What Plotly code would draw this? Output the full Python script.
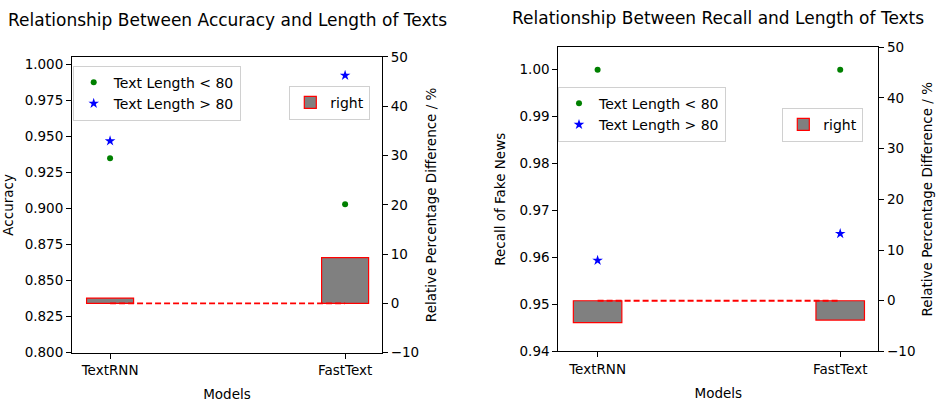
import plotly.graph_objects as go

models = ["TextRNN", "FastText"]
x_pos = [0, 1]

# Left chart: accuracy
acc_short = [0.935, 0.903]
acc_long = [0.947, 0.9925]
acc_diff = [1.1, 9.3]

# Right chart: recall of fake news
rec_short = [1.000, 1.000]
rec_long = [0.9594, 0.9651]
rec_diff = [-4.3, -3.8]

zero_line = [0, 0]

acc_ticks = [0.800, 0.825, 0.850, 0.875, 0.900, 0.925, 0.950, 0.975, 1.000]
rec_ticks = [0.94, 0.95, 0.96, 0.97, 0.98, 0.99, 1.00]
pct_ticks = [-10, 0, 10, 20, 30, 40, 50]

W, H = 936, 403
FONT = "DejaVu Sans"
FS = 13.5

fig = go.Figure()

def add_panel(xa, ya, ya2, short, long_, diff, leg_pts, leg_bar):
    fig.add_trace(go.Scatter(
        x=x_pos, y=short, mode="markers", name="Text Length < 80",
        marker=dict(symbol="circle", size=6, color="#008000"),
        xaxis=xa, yaxis=ya, legend=leg_pts, showlegend=True))
    fig.add_trace(go.Scatter(
        x=x_pos, y=long_, mode="markers", name="Text Length > 80",
        marker=dict(symbol="star", size=8, color="#0000ff"),
        xaxis=xa, yaxis=ya, legend=leg_pts, showlegend=True))
    fig.add_trace(go.Bar(
        x=x_pos, y=diff, width=0.2, name="right",
        marker=dict(color="#808080", line=dict(color="#ff0000", width=1.2)),
        xaxis=xa, yaxis=ya2, legend=leg_bar, showlegend=True))
    fig.add_trace(go.Scatter(
        x=x_pos, y=zero_line, mode="lines", showlegend=False,
        line=dict(color="#ff0000", width=1.8, dash="6px,3px"),
        xaxis=xa, yaxis=ya2))

add_panel("x", "y", "y2", acc_short, acc_long, acc_diff, "legend", "legend2")
add_panel("x2", "y3", "y4", rec_short, rec_long, rec_diff, "legend3", "legend4")

def py(top_px):
    return (H - top_px) / H

axis_common = dict(showline=True, linecolor="black", linewidth=1, ticks="outside",
                   ticklen=5, tickwidth=1, tickcolor="black", showgrid=False,
                   zeroline=False, tickfont=dict(family=FONT, size=FS, color="black"))

def ttl(text, standoff):
    return dict(text=text, standoff=standoff, font=dict(family=FONT, size=FS, color="black"))

xr = [-0.162, 1.157]
fig.update_layout(
    width=W, height=H,
    margin=dict(l=0, r=0, t=0, b=0),
    paper_bgcolor="white", plot_bgcolor="white",
    font=dict(family=FONT, size=FS, color="black"),
    barmode="overlay",
    xaxis=dict(domain=[72/W, 382/W], range=xr, tickvals=x_pos, ticktext=models,
               mirror=True, anchor="y", title=ttl("Models", 12), **axis_common),
    yaxis=dict(domain=[py(359), py(51)], range=[0.8, 1.0053], tickvals=acc_ticks,
               tickformat=".3f", anchor="x", title=ttl("Accuracy", 9), **axis_common),
    yaxis2=dict(range=[-10, 50], tickvals=pct_ticks, overlaying="y", side="right",
                anchor="x", title=ttl("Relative Percentage Difference / %", 8),
                **axis_common),
    xaxis2=dict(domain=[558.3/W, 878.3/W], range=xr, tickvals=x_pos, ticktext=models,
                mirror=True, anchor="y3", title=ttl("Models", 12), **axis_common),
    yaxis3=dict(domain=[py(357.7), py(40.7)], range=[0.94, 1.00483], tickvals=rec_ticks,
                tickformat=".2f", anchor="x2", title=ttl("Recall of Fake News", 10),
                **axis_common),
    yaxis4=dict(range=[-10, 50], tickvals=pct_ticks, overlaying="y3", side="right",
                anchor="x2", title=ttl("Relative Percentage Difference / %", 8),
                **axis_common),
)

leg_common = dict(bgcolor="rgba(255,255,255,0.8)", bordercolor="#d0d0d0", borderwidth=1,
                  font=dict(family=FONT, size=14, color="black"),
                  xanchor="left", yanchor="top", xref="paper", yref="paper",
                  tracegroupgap=0, itemclick=False)
fig.update_layout(
    legend=dict(x=72.7/W, y=py(60), **leg_common),
    legend2=dict(x=289.3/W, y=py(81), **leg_common),
    legend3=dict(x=558/W, y=py(82), **leg_common),
    legend4=dict(x=782.3/W, y=py(104), **leg_common),
)

fig.add_annotation(text="Relationship Between Accuracy and Length of Texts",
                   x=227/W, y=py(12), xref="paper", yref="paper", showarrow=False,
                   xanchor="center", yanchor="middle",
                   font=dict(family=FONT, size=17, color="black"))
fig.add_annotation(text="Relationship Between Recall and Length of Texts",
                   x=718/W, y=py(10), xref="paper", yref="paper", showarrow=False,
                   xanchor="center", yanchor="middle",
                   font=dict(family=FONT, size=17, color="black"))

fig.write_html("out.html", config={"displayModeBar": False},
               post_script="document.body.style.margin='0';document.body.style.overflow='hidden';")
